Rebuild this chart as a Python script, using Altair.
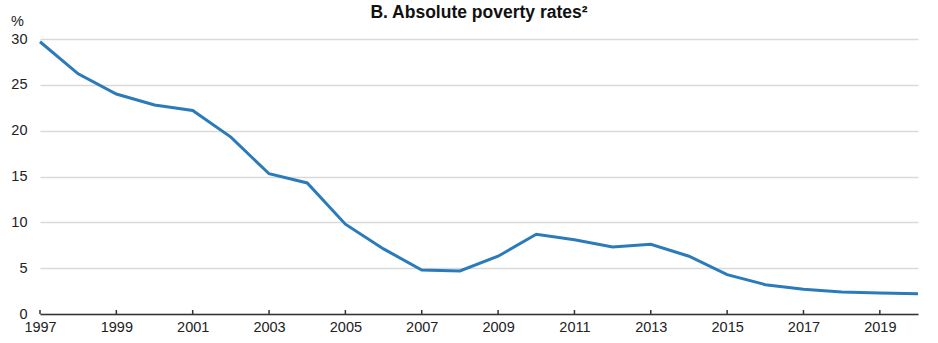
import altair as alt
import pandas as pd

years = list(range(1997, 2021))
rates = [29.7, 26.2, 24.0, 22.8, 22.2, 19.3, 15.3, 14.3, 9.8, 7.1, 4.8, 4.7,
         6.3, 8.7, 8.1, 7.3, 7.6, 6.3, 4.3, 3.2, 2.7, 2.4, 2.3, 2.2]
tick_years = list(range(1997, 2020, 2))
y_ticks = [0, 5, 10, 15, 20, 25, 30]

df = pd.DataFrame({"year": years, "rate": rates})
ticks_df = pd.DataFrame({"year": tick_years})

W, H = 878, 275
FONT = "Liberation Sans"

x_scale = alt.Scale(domain=[1997, 2020], nice=False, zero=False)

line = alt.Chart(df).mark_line(color="#2b7bba", strokeWidth=3).encode(
    x=alt.X("year:Q", scale=x_scale,
            axis=alt.Axis(values=tick_years, format="d", title=None, grid=False,
                          tickSize=0, domainColor="#333333", domainWidth=1.5,
                          labelPadding=6, labelFontSize=14.5, labelColor="#222222",
                          labelFont=FONT, labelFlush=False)),
    y=alt.Y("rate:Q", scale=alt.Scale(domain=[0, 30], nice=False),
            axis=alt.Axis(values=y_ticks, title="%", titleAngle=0, titleAlign="center",
                          titleBaseline="middle", titleX=-23, titleY=-18,
                          titleFontSize=14.5, titleFontWeight="normal", titleColor="#222222",
                          titleFont=FONT,
                          domain=False, ticks=False, labelPadding=13,
                          labelFontSize=14.5, labelColor="#222222", labelFont=FONT,
                          gridColor="#d9d9d9", gridWidth=1.5)),
)

tick_marks = alt.Chart(ticks_df).mark_rule(color="#333333", strokeWidth=1.5).encode(
    x=alt.X("year:Q", scale=x_scale),
    y=alt.value(H - 4),
    y2=alt.value(H),
)

chart = alt.layer(line, tick_marks).properties(
    width=W, height=H,
    autosize=alt.AutoSizeParams(type="none"),
    padding={"left": 40, "top": 39, "right": 20, "bottom": 29},
    title=alt.TitleParams("B. Absolute poverty rates²", anchor="middle", fontSize=17.5,
                          font=FONT, fontWeight="bold", color="#111111",
                          offset=-8),
).configure_view(stroke=None)

chart.save("out.html", embed_options={"renderer": "svg", "actions": False})
